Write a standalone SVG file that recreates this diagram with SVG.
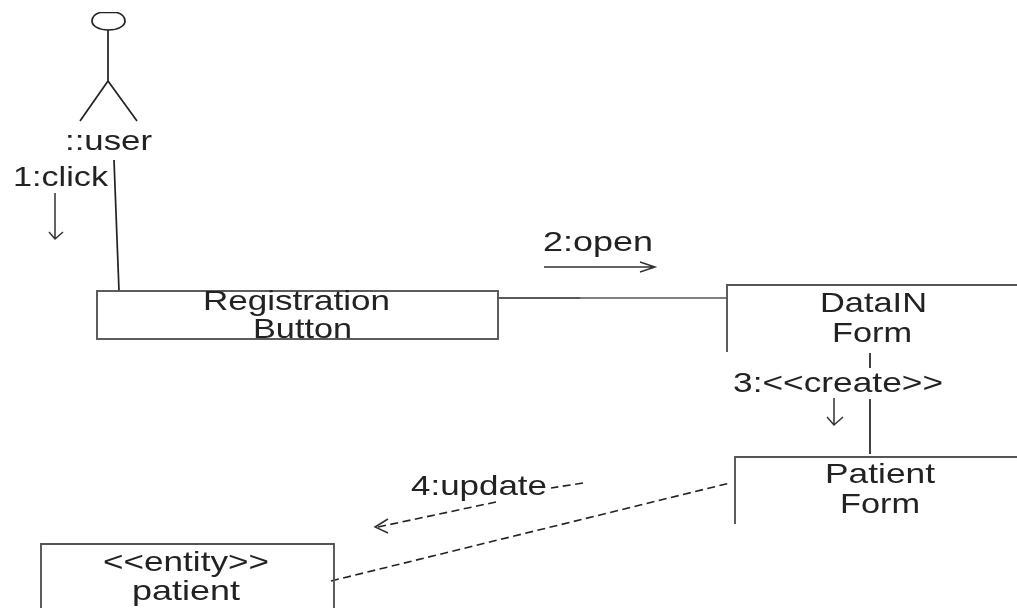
<svg xmlns="http://www.w3.org/2000/svg" width="1017" height="610" viewBox="0 0 1017 610">
<style>
text{font-family:"Liberation Sans",Arial,sans-serif;font-size:28px;fill:#222}
.l{fill:none;stroke:#222;stroke-width:1.7}
.g{fill:none;stroke:#555;stroke-width:1.7}
.b{fill:none;stroke:#555;stroke-width:1.9}
.d{fill:none;stroke:#222;stroke-width:1.6;stroke-dasharray:8 4.5}
.t{fill:none;stroke:#333;stroke-width:1.5}
</style>
<defs><filter id="soft" x="0" y="0" width="100%" height="100%"><feGaussianBlur stdDeviation="0.5"/></filter></defs>
<rect width="1017" height="610" fill="#fff"/>
<g filter="url(#soft)">
<g id="connectors">
<path class="l" d="M114 160L119 291"/>
<path class="l" d="M498 298H580"/>
<path class="g" d="M580 298H727"/>
<path class="l" d="M870 353V368M870 399V454"/>
<path class="d" d="M331 581L730 483"/>
<path class="d" d="M583 483L551 488"/>
<path class="d" d="M496 502L378 527"/>
<path class="t" d="M388 519L375 527L388 533"/>
<path class="t" d="M55 193V238M49 232L55 239L63 232"/>
<path class="t" d="M544 267H654M640 262L655 267L640 272"/>
<path class="t" d="M834 398V424M827 417L834 425L843 417"/>
</g>
<g id="user">
<path class="l" d="M100 12.5H117C122 14 125 17 125 21C125 26 118 30 108.500 30C99 30 92 26 92 21C92 17 95 14 100 12.5Z"/>
<path class="l" d="M108 30V81M80 121L108 81L137 121"/>
<text x="65" y="150" textLength="87" lengthAdjust="spacingAndGlyphs">::user</text>
</g>
<text x="13" y="186" textLength="95" lengthAdjust="spacingAndGlyphs">1:click</text>
<text x="543" y="251" textLength="110" lengthAdjust="spacingAndGlyphs">2:open</text>
<text x="733" y="392" textLength="210" lengthAdjust="spacingAndGlyphs">3:&lt;&lt;create&gt;&gt;</text>
<text x="411" y="495" textLength="136" lengthAdjust="spacingAndGlyphs">4:update</text>
<g id="registration">
<rect class="b" x="97" y="291" width="401" height="48"/>
<text x="203" y="310" textLength="187" lengthAdjust="spacingAndGlyphs">Registration</text>
<text x="253" y="338" textLength="99" lengthAdjust="spacingAndGlyphs">Button</text>
</g>
<g id="datain">
<path class="b" d="M727 352V285H1017"/>
<text x="820" y="312" textLength="107" lengthAdjust="spacingAndGlyphs">DataIN</text>
<text x="832" y="342" textLength="80" lengthAdjust="spacingAndGlyphs">Form</text>
</g>
<g id="patientform">
<path class="b" d="M735 524V457H1017"/>
<text x="825" y="483" textLength="110" lengthAdjust="spacingAndGlyphs">Patient</text>
<text x="840" y="513" textLength="80" lengthAdjust="spacingAndGlyphs">Form</text>
</g>
<g id="patient">
<path class="b" d="M41 608V544H334V608"/>
<text x="103" y="571" textLength="166" lengthAdjust="spacingAndGlyphs">&lt;&lt;entity&gt;&gt;</text>
<text x="132" y="600" textLength="108" lengthAdjust="spacingAndGlyphs">patient</text>
</g>
</g>
</svg>
